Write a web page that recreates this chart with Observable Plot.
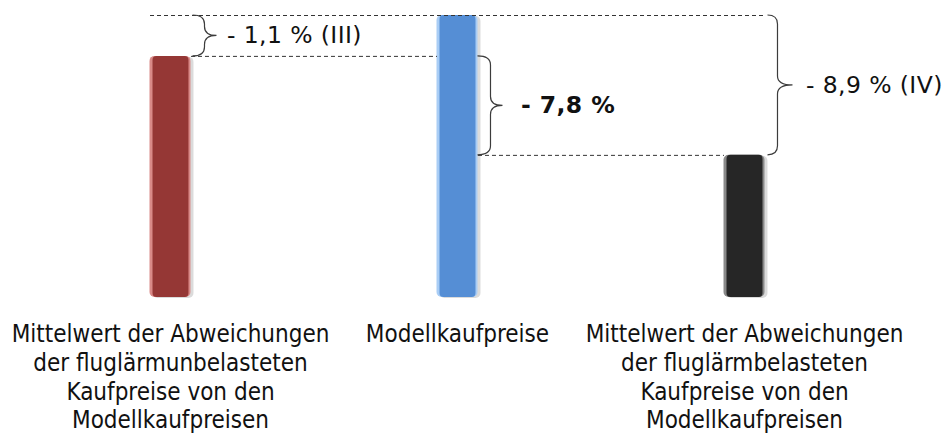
<!DOCTYPE html>
<html><head><meta charset="utf-8">
<script src="https://cdn.jsdelivr.net/npm/d3@7"></script>
<script src="https://cdn.jsdelivr.net/npm/@observablehq/plot@0.6"></script>
<style>
body{margin:0;background:#fff}
#chart{width:944px;height:436px;overflow:hidden}
</style>
</head><body><div id="chart"></div>
<script>
// ---- data ----
const categories = [
  "Mittelwert der Abweichungen der fluglärmunbelasteten Kaufpreise von den Modellkaufpreisen",
  "Modellkaufpreise",
  "Mittelwert der Abweichungen der fluglärmbelasteten Kaufpreise von den Modellkaufpreisen"
];
const labelLines = [
  ["Mittelwert der Abweichungen", "der fluglärmunbelasteten", "Kaufpreise von den", "Modellkaufpreisen"],
  ["Modellkaufpreise"],
  ["Mittelwert der Abweichungen", "der fluglärmbelasteten", "Kaufpreise von den", "Modellkaufpreisen"]
];
// schematic bar heights as drawn (Modellkaufpreise = 100)
const barValues = [85.5, 100, 50.4];
const diffLabels = ["- 1,1 % (III)", "- 7,8 %", "- 8,9 % (IV)"];
const diffUpper = [1, 0, 1];   // bar index of the upper level
const diffLower = [0, 2, 2];   // bar index of the lower level
const diffAnchor = [0, 1, 2];  // bar next to which the brace sits

// ---- styles ----
const mainColors = ["#953735", "#558ed5", "#262626"];
const edgeColors = ["#d98a88", "#a9cdf5", "#8a8a8a"];
const hw = 0.0714; // half bar width in x units

const bars = categories.map((c, i) => ({category: c, index: i, value: barValues[i], label: labelLines[i].join("\n")}));
const annots = diffLabels.map((t, i) => ({
  text: t, upper: barValues[diffUpper[i]], lower: barValues[diffLower[i]], anchor: diffAnchor[i]
}));
const dashes = [
  {x1: 0 - hw, x2: 2 + hw, y: barValues[1]},
  {x1: 0 + hw, x2: 1 - hw, y: barValues[0]},
  {x1: 1 + hw, x2: 2 - hw, y: barValues[2]}
];
const braceOffsets = [{off: 14, w: 12, t: 12}, {off: 13, w: 13, t: 12}, {off: 13, w: 10, t: 15}];

function braces(index, scales) {
  const sx = scales.x, sy = scales.y;
  const g = d3.create("svg:g").attr("fill", "none").attr("stroke", "#3c3c3c").attr("stroke-width", 1.2);
  annots.forEach((a, i) => {
    const o = braceOffsets[i];
    const x0 = sx(a.anchor + hw) + o.off;
    const y1 = sy(a.upper), y2 = sy(a.lower), ym = (y1 + y2) / 2;
    const r = Math.min(9, (y2 - y1) / 4);
    const p = d3.path();
    p.moveTo(x0 - o.w, y1);
    p.quadraticCurveTo(x0, y1, x0, y1 + r);
    p.lineTo(x0, ym - r);
    p.quadraticCurveTo(x0, ym, x0 + o.t, ym);
    p.quadraticCurveTo(x0, ym, x0, ym + r);
    p.lineTo(x0, y2 - r);
    p.quadraticCurveTo(x0, y2, x0 - o.w, y2);
    g.append("path").attr("d", p.toString());
  });
  return g.node();
}

const annotStyle = {textAnchor: "start", fontSize: 23.5, fontFamily: "DejaVu Sans", fill: "#111"};

const plot = Plot.plot({
  width: 944,
  height: 436,
  marginLeft: 170,
  marginRight: 200,
  marginTop: 15,
  marginBottom: 139,
  x: {domain: [0, 2], axis: null},
  y: {domain: [0, 100], axis: null},
  color: {type: "identity"},
  style: {background: "#fff", overflow: "visible"},
  marks: [
    Plot.rectY(bars, {x1: d => d.index - hw, x2: d => d.index + hw, y: "value", fill: "#000", fillOpacity: 0.14, dx: 3, dy: 1, rx: 5}),
    Plot.rectY(bars, {x1: d => d.index - hw, x2: d => d.index + hw, y: "value", fill: d => edgeColors[d.index], rx: 5}),
    Plot.rectY(bars, {x1: d => d.index - hw, x2: d => d.index + hw, y: "value", fill: d => mainColors[d.index], insetLeft: 3, insetRight: 2, rx: 4}),
    Plot.link(dashes, {x1: "x1", x2: "x2", y1: "y", y2: "y", stroke: "#333", strokeWidth: 1, strokeDasharray: "4,3"}),
    braces,
    Plot.text([annots[0]], {x: d => d.anchor + hw, y: d => (d.upper + d.lower) / 2, text: "text", dx: 36, ...annotStyle}),
    Plot.text([annots[1]], {x: d => d.anchor + hw, y: d => (d.upper + d.lower) / 2, text: "text", dx: 43, fontWeight: "bold", ...annotStyle}),
    Plot.text([annots[2]], {x: d => d.anchor + hw, y: d => (d.upper + d.lower) / 2, text: "text", dx: 41, ...annotStyle}),
    Plot.text(bars, {x: "index", y: 0, text: "label", lineAnchor: "top", dy: 24, lineHeight: 1.2, fontSize: 24, fontFamily: "DejaVu Sans Condensed, DejaVu Sans", fill: "#111"})
  ]
});
plot.querySelectorAll("text").forEach(t => {
  const s = t.textContent;
  if (/Mittelwert|Modell|fluglärm|Kaufpreise/.test(s)) t.style.fontStretch = "condensed";
  else t.style.letterSpacing = "0.4px";
});
document.getElementById("chart").appendChild(plot);
</script>
</body></html>
